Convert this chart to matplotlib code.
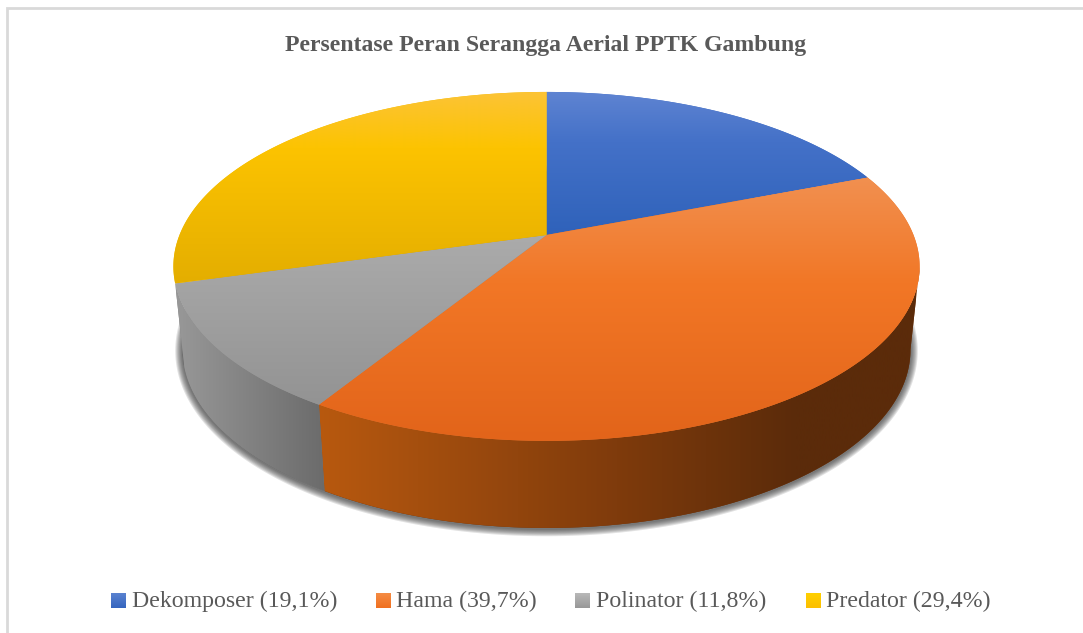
import numpy as np
import matplotlib
matplotlib.use("Agg")
import matplotlib.pyplot as plt
from matplotlib.colors import LinearSegmentedColormap
from matplotlib.patches import Polygon, Rectangle

# data
categories = ["Dekomposer", "Hama", "Polinator", "Predator"]
values = [19.1, 39.7, 11.8, 29.4]
title = "Persentase Peran Serangga Aerial PPTK Gambung"

# top surface gradients, top to bottom of each slice
top_colors = [
    [(0.0, "#5f84d2"), (0.35, "#4471c8"), (1.0, "#2f62ba")],
    [(0.0, "#f19050"), (0.4, "#f27726"), (1.0, "#e2641a")],
    [(0.0, "#ababab"), (1.0, "#939393")],
    [(0.0, "#fcc436"), (0.3, "#fcc300"), (1.0, "#e4ae00")],
]
# side wall gradients, left to right
side_colors = {
    1: [(0.0, "#b8590f"), (0.5, "#7f3b0c"), (0.8, "#5b2b0a"), (1.0, "#5b2b0a")],
    2: [(0.0, "#989898"), (1.0, "#6b6b6b")],
}
swatches = [("#5a82d0", "#3565bf"), ("#f58c44", "#f07020"),
            ("#b8b8b8", "#989898"), ("#ffd000", "#fcbf00")]
legend_x = [111, 376, 575, 806]
persp = 0.18
z = [2]


def project(frac, cx, cy, A, B, k):
    # fraction of the circle clockwise from 12 o'clock -> image pixels, with perspective
    a = 2 * np.pi * np.asarray(frac)
    u, v = np.sin(a), np.cos(a)
    w = 1 + k * v
    return np.column_stack([cx + A * u / w, cy - B * v / w])


def top_pts(frac):
    return project(frac, 546.5, 235, 367, 168.8, persp)


def bottom_pts(frac):
    return project(frac, 546.5, 317.7, 358, 172.4, persp)


def grad_fill(ax, poly, colors, extent, vertical=True):
    cmap = LinearSegmentedColormap.from_list("g", colors)
    ramp = np.linspace(0, 1, 256)
    ramp = ramp[:, None] if vertical else ramp[None, :]
    z[0] += 1
    # base polygon keeps a clean edge under the clipped image
    ax.add_patch(Polygon(poly, closed=True, facecolor=cmap(0.5), edgecolor="none", zorder=z[0]))
    z[0] += 1
    im = ax.imshow(ramp, cmap=cmap, extent=extent, origin="upper", aspect="auto",
                   vmin=0, vmax=1, interpolation="bilinear", zorder=z[0])
    im.set_clip_path(Polygon(poly, closed=True, transform=ax.transData))


fig = plt.figure(figsize=(10.83, 6.33), dpi=100)
ax = fig.add_axes([0, 0, 1, 1])
ax.axis("off")

# frame
ax.add_patch(Rectangle((6.5, 8), 1200, 1000, facecolor="white", edgecolor="#d9d9d9",
                       linewidth=2, zorder=0))

# soft shadow below the wall
ring = bottom_pts(np.linspace(0, 1, 400))
for lw in np.arange(10.5, 0, -1.5):
    ax.add_patch(Polygon(ring + [0, 1], closed=True, facecolor="none", edgecolor="#3a3a3a",
                         linewidth=lw, alpha=0.15, joinstyle="round", zorder=1))
ax.add_patch(Polygon(ring, closed=True, facecolor="#555555", edgecolor="none", zorder=1))

edges = np.concatenate([[0], np.cumsum(values)]) / np.sum(values)
# the wall only shows from the widest point of the disc onwards
widest = np.arccos(-persp) / (2 * np.pi)

# walls first, orange spans x 318-916, grey x 176-326
for i, x0, x1 in [(1, 318, 916), (2, 176, 326)]:
    fr = np.linspace(max(edges[i], widest), edges[i + 1], 200)
    poly = np.vstack([top_pts(fr), bottom_pts(fr)[::-1]])
    grad_fill(ax, poly, side_colors[i], (x0, x1, 633, 0), vertical=False)

# top surfaces
for i in range(len(values)):
    fr = np.linspace(edges[i], edges[i + 1], 200)
    pts = np.vstack([[[546.5, 235]], top_pts(fr)])
    grad_fill(ax, pts, top_colors[i], (150, 950, pts[:, 1].max(), pts[:, 1].min()))

z[0] += 1
ax.text(546, 46, title, ha="center", va="center", fontsize=17.15, fontweight="bold",
        family="Liberation Serif", color="#595959", zorder=z[0])

# legend
for i, name in enumerate(categories):
    x = legend_x[i]
    cmap = LinearSegmentedColormap.from_list("s", swatches[i])
    ax.imshow(np.linspace(0, 1, 32)[:, None], cmap=cmap, extent=(x, x + 14.5, 608.5, 594),
              origin="upper", aspect="auto", vmin=0, vmax=1, zorder=z[0])
    label = f"{name} ({str(values[i]).replace('.', ',')}%)"
    ax.text(x + 20.5, 601.5, label, ha="left", va="center", fontsize=17.2,
            family="Liberation Serif", color="#595959", zorder=z[0])

ax.set_xlim(0, 1083)
ax.set_ylim(633, 0)
fig.savefig("out.png", dpi=100, facecolor="white")
